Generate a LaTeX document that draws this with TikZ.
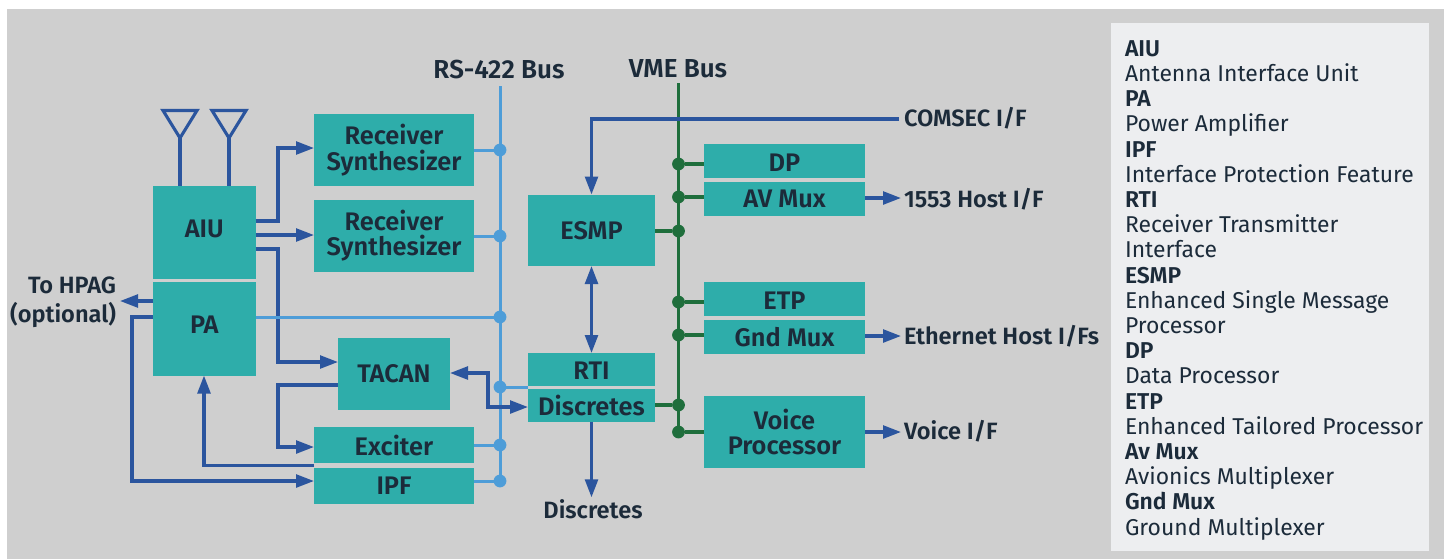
\documentclass[tikz,border=0pt]{standalone}
\usepackage{fontspec}
\setmainfont{Fira Sans}[BoldFont={Fira Sans SemiBold}]
\usetikzlibrary{arrows.meta,calc}
\definecolor{tealbox}{HTML}{2EADAA}
\definecolor{inkc}{HTML}{1C2B3A}
\definecolor{dkblue}{HTML}{2B559E}
\definecolor{ltblue}{HTML}{4E9DD8}
\definecolor{busgreen}{HTML}{1F6E3C}
\definecolor{bggrey}{HTML}{CFCFCF}
\definecolor{legendbg}{HTML}{EDEEF0}
\newcommand{\bx}[6]{\node[blockbox,minimum width={(#4-#2)*0.5pt},minimum height={(#5-#3)*0.5pt}] (#1) at ({(#2+#4)/2},{(#3+#5)/2}) {#6};}
\newcommand{\lowr}[1]{\raisebox{-0.9pt}[\height][0pt]{#1}}
\tikzset{
  blockbox/.style={rectangle,fill=tealbox,inner sep=0pt,outer sep=0pt,align=center,text=inkc,font=\fontsize{12.7}{12.9}\selectfont\bfseries},
  lbl/.style={text=inkc,inner sep=0pt,outer sep=0pt,font=\fontsize{11.8}{14.5}\selectfont\bfseries,align=center},
  buslbl/.style={lbl,font=\fontsize{13}{14.5}\selectfont\bfseries},
  sig/.style={draw=dkblue,line width=1.55pt,line join=miter},
  sigar/.style={sig,-{Triangle[length=9pt,width=6.4pt]}},
  sigbi/.style={sig,{Triangle[length=9pt,width=6.4pt]}-{Triangle[length=9pt,width=6.4pt]}},
  rsline/.style={draw=ltblue,line width=1.5pt},
  vmeline/.style={draw=busgreen,line width=1.8pt},
  rsdot/.style={circle,fill=ltblue,minimum size=6.4pt,inner sep=0pt,outer sep=0pt},
  vmedot/.style={circle,fill=busgreen,minimum size=6.4pt,inner sep=0pt,outer sep=0pt},
  antenna/.style={draw=dkblue,line width=1.55pt,line join=miter,fill=none}
}
\begin{document}
\begin{tikzpicture}[x=0.5pt,y=-0.5pt]
\useasboundingbox (0,0) rectangle (1444,559);
\fill[white] (0,0) rectangle (1444,559);
\fill[bggrey] (7,9) rectangle (1444,559);
% legend
\fill[legendbg] (1111,23) rectangle (1429,551);
\node[anchor=north west,inner sep=0pt,outer sep=0pt,align=left,text=inkc,font=\fontsize{11.45}{12.6}\selectfont] (legend) at (1125,40.5) {%
\textbf{AIU}\\Antenna Interface Unit\\\textbf{PA}\\Power Amplifier\\\textbf{IPF}\\Interface Protection Feature\\\textbf{RTI}\\Receiver Transmitter\\Interface\\\textbf{ESMP}\\Enhanced Single Message\\Processor\\\textbf{DP}\\Data Processor\\\textbf{ETP}\\Enhanced Tailored Processor\\\textbf{Av Mux}\\Avionics Multiplexer\\\textbf{Gnd Mux}\\Ground Multiplexer};
% blocks
\bx{aiu}{153}{186}{255.5}{279}{\raisebox{4pt}{AIU}}
\bx{pa}{153}{282}{255.5}{375.5}{\raisebox{4pt}{PA}}
\bx{rsa}{314}{114}{474}{185.5}{Receiver\\Synthesizer}
\bx{rsb}{314}{199.5}{474}{271.5}{Receiver\\Synthesizer}
\bx{tacan}{338}{338}{450}{410}{TACAN}
\bx{exciter}{314}{427}{474}{463}{Exciter}
\bx{ipf}{314}{468}{474}{504}{IPF}
\bx{esmp}{528}{194.5}{655}{266}{ESMP}
\bx{rti}{528}{353}{655}{385.5}{\lowr{RTI}}
\bx{disc}{528}{389}{655}{421.5}{Discretes}
\bx{dp}{704}{144}{865}{178}{\lowr{DP}}
\bx{avmux}{704}{182}{865}{216}{AV Mux}
\bx{etp}{704}{282}{865}{316}{\lowr{ETP}}
\bx{gndmux}{704}{320}{865}{354}{Gnd Mux}
\bx{voice}{704}{396}{865}{468}{Voice\\Processor}
% labels
\node[buslbl] (rslabel) at (499,69) {RS-422 Bus};
\node[buslbl] (vmelabel) at (678,69) {VME Bus};
\node[lbl,anchor=west] (comsec) at (904,118) {COMSEC I/F};
\node[lbl,anchor=west] (host) at (904,199) {1553 Host I/F};
\node[lbl,anchor=west] (eth) at (904,336) {Ethernet Host I/Fs};
\node[lbl,anchor=west] (voicei) at (904,431) {Voice I/F};
\node[lbl] (disclabel) at (593,509) {Discretes};
\node[lbl,anchor=east,align=right] (hpag) at (116,302.5) {To HPAG\\(optional)};
% bus ends and junctions
\coordinate (rstop) at (500,86);
\coordinate (rsend) at (500,481);
\coordinate (vmetop) at (678.5,83);
\coordinate (vmeend) at (678.5,432);
\node[rsdot] (ra) at (500,150) {};
\node[rsdot] (rb) at (500,236) {};
\node[rsdot] (rc) at (500,317) {};
\node[rsdot] (rd) at (500,387) {};
\node[rsdot] (re) at (500,445) {};
\node[rsdot] (rf) at (500,481) {};
\node[vmedot] (va) at (678.5,164) {};
\node[vmedot] (vb) at (678.5,197) {};
\node[vmedot] (vc) at (678.5,231) {};
\node[vmedot] (vd) at (678.5,302) {};
\node[vmedot] (ve) at (678.5,335) {};
\node[vmedot] (vf) at (678.5,405) {};
\node[vmedot] (vg) at (678.5,432) {};
% RS-422 bus
\draw[rsline] (rstop) -- (rsend);
\draw[rsline] (rsa.east |- ra) -- (ra);
\draw[rsline] (rsb.east |- rb) -- (rb);
\draw[rsline] (exciter.east |- re) -- (re);
\draw[rsline] (ipf.east |- rf) -- (rf);
\draw[rsline] (rti.west |- rd) -- (rd);
% VME bus
\draw[vmeline] (vmetop) -- (vmeend);
\draw[vmeline] (dp.west |- va) -- (va);
\draw[vmeline] (avmux.west |- vb) -- (vb);
\draw[vmeline] (esmp.east |- vc) -- (vc);
\draw[vmeline] (etp.west |- vd) -- (vd);
\draw[vmeline] (gndmux.west |- ve) -- (ve);
\draw[vmeline] (disc.east |- vf) -- (vf);
\draw[vmeline] (voice.west |- vg) -- (vg);
% antennas
\coordinate (anta) at (180,138);
\coordinate (antb) at (229,138);
\draw[antenna] (163,110.5) -- (197,110.5) -- (anta) -- cycle;
\draw[antenna] (212,110.5) -- (246,110.5) -- (antb) -- cycle;
\draw[sig] (anta) -- (aiu.north -| anta);
\draw[sig] (antb) -- (aiu.north -| antb);
% signals
\coordinate (c1) at (278,221);
\coordinate (c2) at (278,148);
\draw[sigar] (aiu.east |- c1) -- (c1) -- (c2) -- (rsa.west |- c2);
\coordinate (c3) at (300,235);
\draw[sigar] (aiu.east |- c3) -- (rsb.west |- c3);
\coordinate (c4) at (278,249);
\coordinate (c5) at (278,362);
\draw[sigar] (aiu.east |- c4) -- (c4) -- (c5) -- (tacan.west |- c5);
\coordinate (c6) at (278,385);
\coordinate (c7) at (278,447);
\draw[sigar] (tacan.west |- c6) -- (c6) -- (c7) -- (exciter.west |- c7);
\coordinate (c8) at (204,465.5);
\draw[sigar] (exciter.south west |- c8) -- (c8) -- (pa.south -| c8);
\coordinate (c9) at (130,301);
\draw[sigar,shorten >=2pt] (pa.west |- c9) -- (c9 -| hpag.east);
\coordinate (c10) at (132,317);
\coordinate (c11) at (132,481);
\draw[sigar] (pa.west |- c10) -- (c10) -- (c11) -- (ipf.west |- c11);
\coordinate (c12) at (488,373);
\coordinate (c13) at (488,407);
\draw[sigbi] (tacan.east |- c12) -- (c12) -- (c13) -- (disc.west |- c13);
\coordinate (c14) at (591.5,119);
\draw[sigar] (comsec.west |- c14) ++(-5,0) -- (c14) -- (esmp.north -| c14);
\draw[sigbi] (esmp.south -| c14) -- (rti.north -| c14);
\draw[sigar,shorten >=1pt] (disc.south -| c14) -- (disclabel.north -| c14);
\coordinate (c15) at (880,198);
\draw[sigar,shorten >=1.5pt] (avmux.east |- c15) -- (host.west |- c15);
\coordinate (c16) at (880,336);
\draw[sigar,shorten >=1.5pt] (gndmux.east |- c16) -- (eth.west |- c16);
\coordinate (c17) at (880,432);
\draw[sigar,shorten >=1.5pt] (voice.east |- c17) -- (voicei.west |- c17);
\draw[rsline] (pa.east |- rc) -- (rc);
\end{tikzpicture}
\end{document}
